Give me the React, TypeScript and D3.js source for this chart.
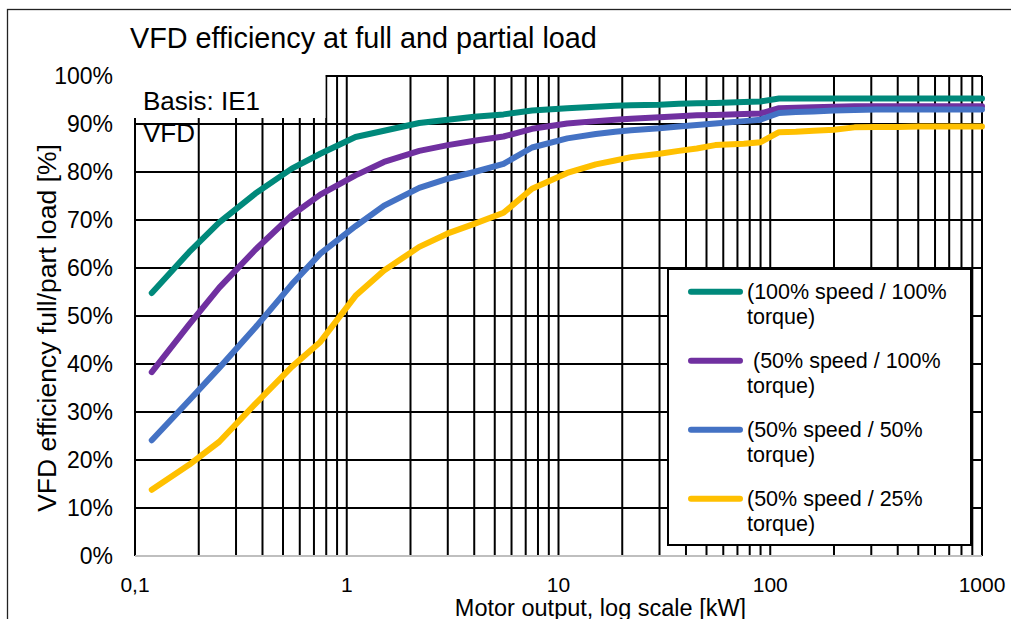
import * as d3 from 'd3';

// motor sizes (kW) where the efficiency curves are sampled
const kw = [0.12, 0.18, 0.25, 0.37, 0.55, 0.75, 1.1, 1.5, 2.2, 3, 4, 5.5, 7.5, 11, 15, 18.5, 22, 30, 37, 45, 55, 75, 90,
  110, 132, 160, 200, 250, 315, 400, 500, 630, 800, 1000];

const full100 = [54.8, 63.3, 69.5, 75.5, 80.7, 83.8, 87.3, 88.6, 90.2, 90.9, 91.5, 92.0, 92.8, 93.3, 93.6, 93.8, 93.9, 94.0, 94.2, 94.3, 94.4, 94.6, 94.7,
  95.3, 95.3, 95.3, 95.3, 95.3, 95.3, 95.3, 95.3, 95.3, 95.3, 95.3];
const half100 = [38.3, 48.2, 55.9, 63.8, 71.0, 75.3, 79.3, 82.1, 84.4, 85.6, 86.5, 87.4, 89.0, 90.1, 90.6, 90.9, 91.1, 91.4, 91.6, 91.8, 91.9, 92.1, 92.2,
  93.3, 93.4, 93.5, 93.6, 93.7, 93.7, 93.7, 93.7, 93.7, 93.7, 93.7];
const half50 = [24.1, 32.4, 39.2, 47.6, 56.6, 63.0, 68.7, 73.0, 76.7, 78.6, 80.0, 81.7, 85.1, 87.0, 87.9, 88.4, 88.7, 89.1, 89.5, 89.8, 90.1, 90.6, 90.9,
  92.3, 92.5, 92.6, 92.8, 92.9, 93.0, 93.0, 93.0, 93.0, 93.0, 93.0];
const half25 = [13.8, 19.0, 23.8, 31.7, 39.4, 44.6, 54.2, 59.5, 64.4, 67.2, 69.2, 71.5, 76.5, 79.8, 81.6, 82.4, 83.1, 83.8, 84.4, 84.9, 85.6, 85.9, 86.2,
  88.3, 88.4, 88.6, 88.8, 89.3, 89.4, 89.4, 89.5, 89.5, 89.5, 89.5];

const seriesNames = [['(100% speed / 100%', 'torque)'], [' (50% speed / 100%', 'torque)'], ['(50% speed / 50%', 'torque)'], ['(50% speed / 25%', 'torque)']];
const seriesColors = ['#00897B', '#7030A0', '#4472C4', '#FFC000'];
const seriesValues = [full100, half100, half50, half25];

const xTicks = [0.1, 1, 10, 100, 1000];
const xTickLabels = ['0,1', '1', '10', '100', '1000'];
const yTicks = d3.range(0, 101, 10);

const FONT = '"Liberation Sans", Arial, sans-serif';

export default function App() {
  const W = 1011, H = 619;
  const x = d3.scaleLog().domain([0.1, 1000]).range([135, 982]);
  const y = d3.scaleLinear().domain([0, 100]).range([556, 76]);
  const line = d3.line<[number, number]>().x((d) => x(d[0])).y((d) => y(d[1]));

  // minor + major vertical grid (1..9 per decade)
  const vgrid: number[] = [];
  for (let e = -1; e < 3; e++) for (let m = 1; m < 10; m++) vgrid.push(m * Math.pow(10, e));
  vgrid.push(1000);

  return (
    <svg width={W} height={H} style={{ position: 'absolute', left: 0, top: 0, background: '#fff' }} fontFamily={FONT}>
      <rect x={7.5} y={9.5} width={1010} height={620} fill="#fff" stroke="#222" strokeWidth={1.3} />
      <text x={130} y={48} fontSize={28.8} fill="#000">VFD efficiency at full and partial load</text>

      {/* grid */}
      {yTicks.filter((t) => t > 0).map((t) => (
        <line key={'h' + t} x1={x(0.1)} x2={x(1000)} y1={y(t)} y2={y(t)} stroke="#000" strokeWidth={2} />
      ))}
      {vgrid.map((v) => (
        <line key={'v' + v} x1={x(v)} x2={x(v)} y1={y(100)} y2={y(0)} stroke="#000" strokeWidth={2} />
      ))}
      <line x1={x(0.1)} x2={x(1000)} y1={y(0)} y2={y(0)} stroke="#bfbfbf" strokeWidth={2} />

      {/* text box covering the top-left grid */}
      <rect x={127} y={62} width={198.5} height={56} fill="#fff" />

      {/* y ticks */}
      {yTicks.map((t) => (
        <text key={'yt' + t} x={113} y={y(t) + 8.2} fontSize={23} textAnchor="end" fill="#000">{t + '%'}</text>
      ))}
      {/* x ticks */}
      {xTicks.map((t, i) => (
        <text key={'xt' + t} x={x(t)} y={592} fontSize={21} textAnchor="middle" fill="#000">{xTickLabels[i]}</text>
      ))}
      <text x={600.5} y={615.5} fontSize={23.5} textAnchor="middle" fill="#000">Motor output, log scale [kW]</text>
      <text transform="translate(56,328) rotate(-90)" fontSize={26.5} textAnchor="middle" fill="#000">VFD efficiency full/part load [%]</text>

      {/* series */}
      {seriesValues.map((vals, i) => (
        <path key={'s' + i} d={line(kw.map((k, j) => [k, vals[j]] as [number, number])) || ''} fill="none"
          stroke={seriesColors[i]} strokeWidth={6} strokeLinecap="round" strokeLinejoin="round" />
      ))}

      <text x={143} y={110} fontSize={26} fill="#000">Basis: IE1</text>
      <text x={143} y={141.7} fontSize={26} fill="#000">VFD</text>

      {/* legend */}
      <rect x={668} y={269} width={303} height={276} fill="#fff" stroke="#000" strokeWidth={2} />
      {seriesNames.map((nm, i) => {
        const cy = 291.7 + i * 69;
        return (
          <g key={'lg' + i}>
            <line x1={691} x2={740} y1={cy} y2={cy} stroke={seriesColors[i]} strokeWidth={6} strokeLinecap="round" />
            <text x={747} y={cy + 7.6} fontSize={21.5} fill="#000" style={{ whiteSpace: 'pre' }}>{nm[0]}</text>
            <text x={747} y={cy + 31.8} fontSize={21.5} fill="#000">{nm[1]}</text>
          </g>
        );
      })}
    </svg>
  );
}
